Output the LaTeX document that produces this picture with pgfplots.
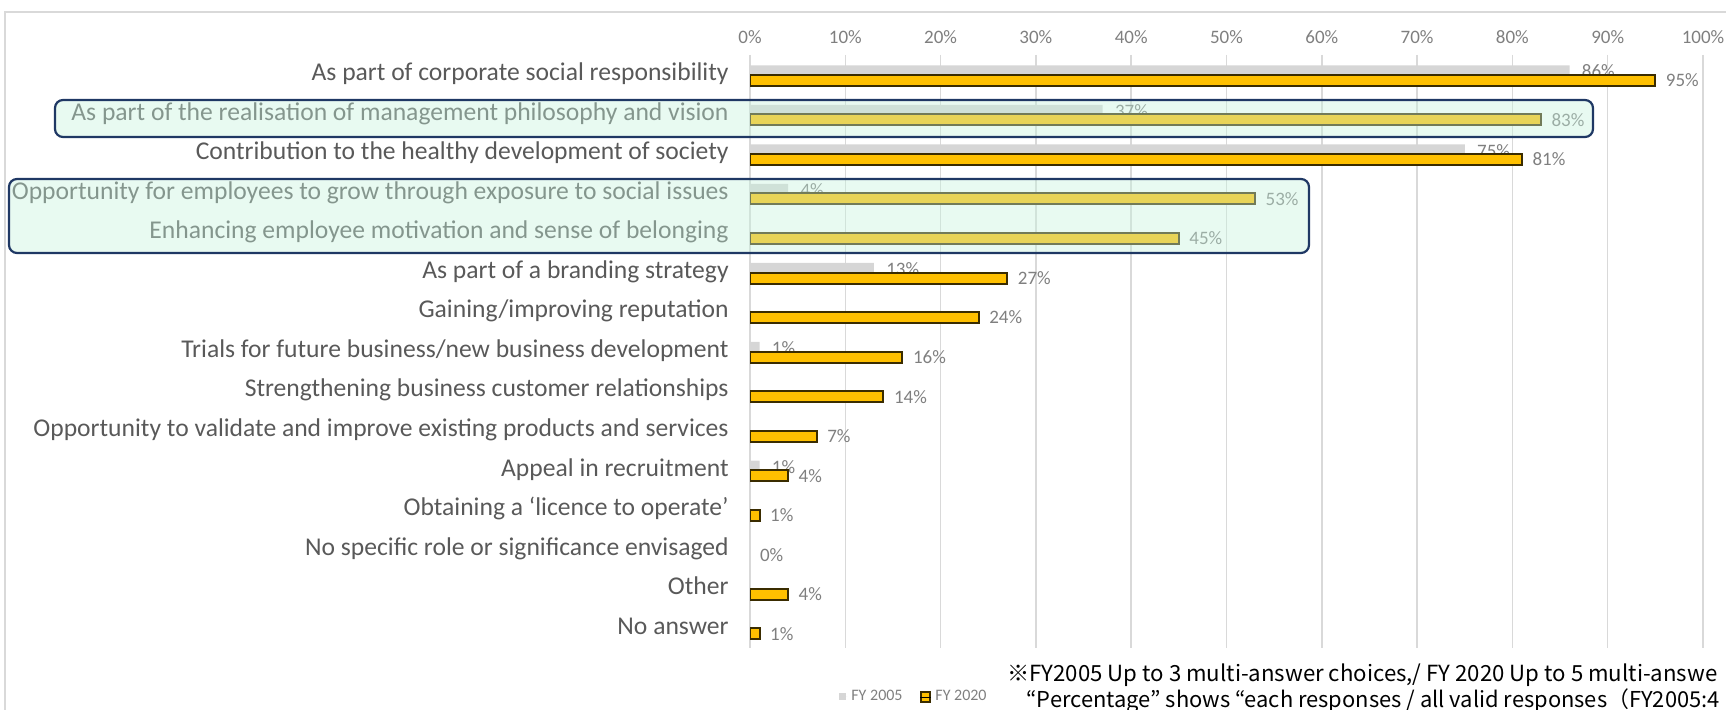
\documentclass[border=0pt]{standalone}
\usepackage{pgfplots}
\pgfplotsset{compat=1.18}
\usepackage{fontspec}
\setmainfont{Carlito}
\newfontfamily\jpfont{Noto Sans CJK JP}
\definecolor{catgray}{HTML}{595959}
\definecolor{numgray}{HTML}{7F7F7F}
\definecolor{gridgray}{HTML}{D9D9D9}
\definecolor{bar05}{HTML}{D6D6D6}
\definecolor{bar20}{HTML}{FFC000}
\definecolor{barline}{HTML}{3A2C00}
\definecolor{boxline}{HTML}{1F3864}
\definecolor{boxfill}{HTML}{C6F2DD}
\pgfplotsset{/pgf/number format/assume math mode=true,
  common/.style={at={(375pt,31pt)}, anchor=south west, scale only axis,
    width=476.5pt, height=296.5pt,
    xmin=0, xmax=100, ymin=-0.5, ymax=14.5, y dir=reverse,
    nodes near coords={\pgfmathprintnumber{\pgfplotspointmeta}\%},
    point meta=x}}
\begin{document}
\begin{tikzpicture}[x=1pt,y=1pt]
\path[use as bounding box] (0,0) rectangle (863,355);
\draw[gridgray, line width=0.75pt] (2.5,0) -- (2.5,349) -- (863,349);
% axis 1: frame, grid, labels, FY2005 bars
\begin{axis}[common,
  xtick={0,10,...,100}, ytick={0,...,14},
  yticklabels={As part of corporate social responsibility,
    As part of the realisation of management philosophy and vision,
    Contribution to the healthy development of society,
    Opportunity for employees to grow through exposure to social issues,
    Enhancing employee motivation and sense of belonging,
    As part of a branding strategy,
    Gaining/improving reputation,
    Trials for future business/new business development,
    Strengthening business customer relationships,
    Opportunity to validate and improve existing products and services,
    Appeal in recruitment,
    Obtaining a `licence to operate',
    No specific role or significance envisaged,
    Other,
    No answer},
  yticklabel style={font=\fontsize{12.8}{15}\selectfont, text=catgray, anchor=east, inner sep=0pt, xshift=-10.5pt, text height=1.6ex, text depth=0.35ex},
  xticklabel pos=upper,
  xticklabel={\pgfmathprintnumber{\tick}\%},
  xticklabel style={font=\fontsize{9.5}{11}\selectfont, text=numgray, anchor=south, inner sep=0pt, yshift=5.6pt},
  axis line style={draw=none},
  major tick length=0pt,
  xmajorgrids, major grid style={gridgray, line width=0.75pt},
  legend style={at={(0.0934,-0.0826)}, anchor=west, draw=none, fill=none, inner sep=0pt,
    font=\fontsize{8}{10}\selectfont, text=numgray,
    /tikz/every odd column/.append style={column sep=2pt},
    /tikz/every even column/.append style={column sep=8.5pt},
    nodes={inner sep=0pt}},
  legend columns=2, legend cell align=left,
]
\addplot[xbar, bar width=4.5pt, bar shift=2.5pt, fill=bar05, draw=none,
  every node near coord/.append style={font=\fontsize{9.5}{11}\selectfont, text=numgray, inner sep=0pt, xshift=6pt, yshift=1.6pt},
  legend image code/.code={\fill[bar05] (0pt,-1.75pt) rectangle (3.5pt,1.75pt); \path (0pt,0pt) -- (4pt,0pt);}]
  coordinates {(86,0) (37,1) (75,2) (4,3) (13,5) (1,7) (1,10)};
\addlegendentry{FY 2005}
\addlegendimage{legend image code/.code={\draw[fill=bar20, draw=barline, line width=0.8pt] (0.4pt,-2.6pt) rectangle (5.1pt,2.6pt); \path (0pt,0pt) -- (5.5pt,0pt);}}
\addlegendentry{FY 2020}
\end{axis}
% axis 2: FY2020 bars drawn on top
\begin{axis}[common, hide axis]
\addplot[xbar, bar width=5.5pt, bar shift=-2.8pt, fill=bar20, draw=barline, line width=1pt,
  every node near coord/.append style={font=\fontsize{9.5}{11}\selectfont, text=numgray, inner sep=0pt, xshift=4.8pt, yshift=-2.8pt}]
  coordinates {(95,0) (83,1) (81,2) (53,3) (45,4) (27,5) (24,6) (16,7) (14,8) (7,9) (4,10) (1,11) (4,13) (1,14)};
\addplot[xbar, bar width=5.5pt, bar shift=-2.8pt, draw=none, fill=none,
  every node near coord/.append style={font=\fontsize{9.5}{11}\selectfont, text=numgray, inner sep=0pt, xshift=4.8pt, yshift=-2.8pt}]
  coordinates {(0,12)};
\end{axis}
\draw[boxline, line width=1.1pt, fill=boxfill, fill opacity=0.4, rounded corners=4pt] (27.5,286.5) rectangle (796.5,305);
\draw[boxline, line width=1.1pt, fill=boxfill, fill opacity=0.4, rounded corners=4pt] (4.5,228.5) rectangle (654.5,265.5);
\node[anchor=base west, inner sep=0pt, font=\jpfont\fontsize{11.1}{13}\selectfont] at (503.5,14) {※FY2005 Up to 3 multi-answer choices,/ FY 2020 Up to 5 multi-answe};
\node[anchor=base west, inner sep=0pt, font=\jpfont\fontsize{10.95}{13}\selectfont] at (513,1) {“Percentage” shows “each responses / all valid responses（FY2005:4};
\end{tikzpicture}
\end{document}
